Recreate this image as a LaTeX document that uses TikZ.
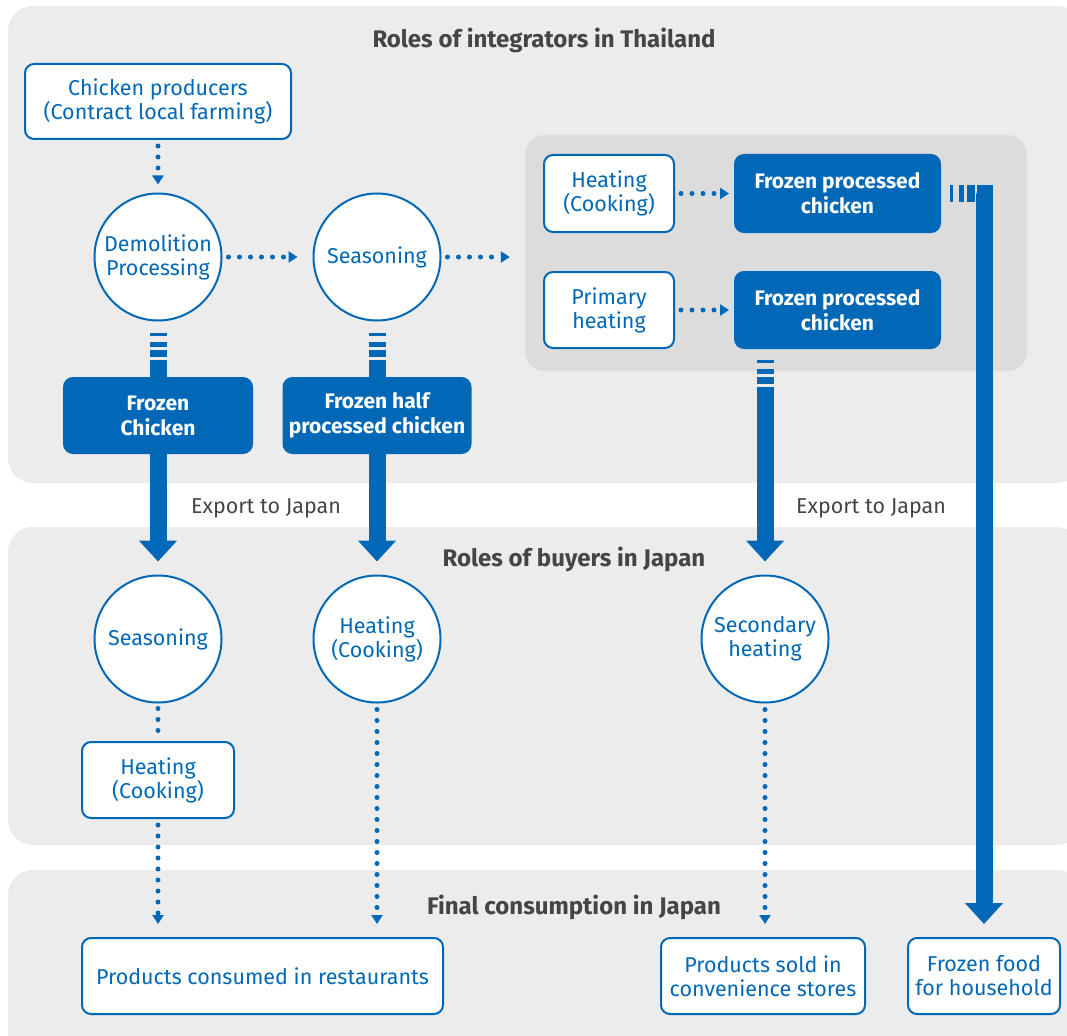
\documentclass[tikz,border=0pt]{standalone}
\usepackage{fontspec}
\setmainfont{Fira Sans}
\usetikzlibrary{arrows.meta}
\definecolor{blu}{HTML}{0068B6}
\definecolor{panelgray}{HTML}{ECECEC}
\definecolor{innergray}{HTML}{DCDCDC}
\definecolor{ink}{HTML}{454545}

\begin{document}
\begin{tikzpicture}[x=1pt,y=-1pt,
  txt/.style={font=\fontsize{21.5}{24}\selectfont, text=blu, align=center},
  obox/.style={txt, draw=blu, line width=2pt, fill=white, rounded corners=9pt, inner sep=0pt},
  fbox/.style={obox, fill=blu, text=white, font=\fontsize{21}{25}\selectfont\bfseries},
  circ/.style={txt, draw=blu, line width=2pt, fill=white, circle, minimum size=127pt, inner sep=0pt},
  heading/.style={font=\fontsize{24}{26}\selectfont\bfseries, text=ink},
  note/.style={font=\fontsize{21.5}{24}\selectfont, text=ink},
  dots/.style={draw=blu, line width=5pt, line cap=round, dash pattern=on 0pt off 11pt},
  dotarrow/.style={dots, -{Triangle[width=11pt,length=9pt]}},
  bar/.style={draw=blu, line width=17pt},
  bararrow/.style={bar, -{Triangle[width=37pt,length=21pt]}},
  barstripes/.style={dash pattern=on 0pt off 11pt on 3pt off 6pt on 5pt off 3pt on 7pt off 3pt on 2000pt}
]
\useasboundingbox (0,0) rectangle (1067,1035);

% background bands
\begin{scope}
  \clip (0,0) rectangle (1067,1035);
  \fill[panelgray, rounded corners=25pt] (8,6) rectangle (1082,483);
  \fill[panelgray, rounded corners=25pt] (8,527) rectangle (1082,845);
  \fill[panelgray, rounded corners=25pt] (8,870) rectangle (1082,1070);
\end{scope}
\node[fill=innergray, rounded corners=20pt, minimum width=502pt, minimum height=236pt, inner sep=0pt] (proc) at (776,253) {};

% headings
\node[heading] (h1) at (544,40) {Roles of integrators in Thailand};
\node[heading] (h2) at (574,559) {Roles of buyers in Japan};
\node[heading] (h3) at (574,907) {Final consumption in Japan};
\node[note] (ex1) at (266,508) {Export to Japan};
\node[note] (ex2) at (871,508) {Export to Japan};

% Thailand stage
\node[obox, minimum width=266pt, minimum height=75pt] (prod) at (158,101.5) {Chicken producers\\(Contract local farming)};
\node[circ] (demol) at (158,257) {Demolition\\Processing};
\node[circ] (seas1) at (377,257) {Seasoning};
\node[obox, minimum width=130pt, minimum height=77pt] (heat1) at (609,193.5) {Heating\\(Cooking)};
\node[fbox, minimum width=205pt, minimum height=77pt] (fpc1) at (837.5,193.5) {Frozen processed\\chicken};
\node[obox, minimum width=130pt, minimum height=76pt] (prim) at (609,310) {Primary\\heating};
\node[fbox, minimum width=205pt, minimum height=76pt] (fpc2) at (837.5,310) {Frozen processed\\chicken};
\node[fbox, minimum width=188pt, minimum height=75pt] (fchk) at (158,415.5) {Frozen\\Chicken};
\node[fbox, minimum width=187pt, minimum height=75pt] (fhalf) at (377,415.5) {Frozen half\\processed chicken};

% Japan buyers
\node[circ] (seas2) at (158,639) {Seasoning};
\node[circ] (heat2) at (377,639) {Heating\\(Cooking)};
\node[circ] (sec) at (765,639) {Secondary\\heating};
\node[obox, minimum width=152pt, minimum height=76pt] (heat3) at (158,780) {Heating\\(Cooking)};

% final consumption
\node[obox, minimum width=361pt, minimum height=76pt] (rest) at (262.5,976) {Products consumed in restaurants};
\node[obox, minimum width=204pt, minimum height=76pt] (conv) at (763,976) {Products sold in\\convenience stores};
\node[obox, minimum width=152pt, minimum height=76pt] (froz) at (984,976) {Frozen food\\for household};

% dotted process flows
\draw[dotarrow, shorten <=6pt, shorten >=8pt] (prod.south) -- (demol.north);
\draw[dotarrow, shorten <=6pt, shorten >=15pt] (demol.east) -- (seas1.west);
\draw[dotarrow, shorten <=6pt, shorten >=15pt] (seas1.east) -- (seas1.east -| proc.west);
\draw[dotarrow, shorten <=6pt, shorten >=5pt] (heat1.east) -- (heat1.east -| fpc1.west);
\draw[dotarrow, shorten <=6pt, shorten >=5pt] (prim.east) -- (prim.east -| fpc2.west);
\draw[dots, shorten <=5pt, shorten >=5pt] (seas2.south) -- (heat3.north);
\draw[dotarrow, shorten <=6pt, shorten >=13pt] (heat3.south) -- (heat3.south |- rest.north);
\draw[dotarrow, shorten <=6pt, shorten >=13pt] (heat2.south) -- (heat2.south |- rest.north);
\draw[dotarrow, shorten <=6pt, shorten >=13pt] (sec.south) -- (sec.south |- conv.north);

% frozen product flows
\draw[bar, barstripes] (demol.south) -- (fchk.north);
\draw[bar, barstripes] (seas1.south) -- (fhalf.north);
\draw[bararrow, shorten >=13pt] (fchk.south) -- (seas2.north);
\draw[bararrow, shorten >=13pt] (fhalf.south) -- (heat2.north);
\draw[bararrow, barstripes, shorten >=13pt] (fpc2.south -| sec.north) -- (sec.north);
\draw[bararrow, shorten >=13pt, dash pattern=on 0pt off 9pt on 3pt off 6pt on 5pt off 3pt on 8pt off 2pt on 3000pt] (fpc1.east) -| (froz.north);
\end{tikzpicture}
\end{document}
